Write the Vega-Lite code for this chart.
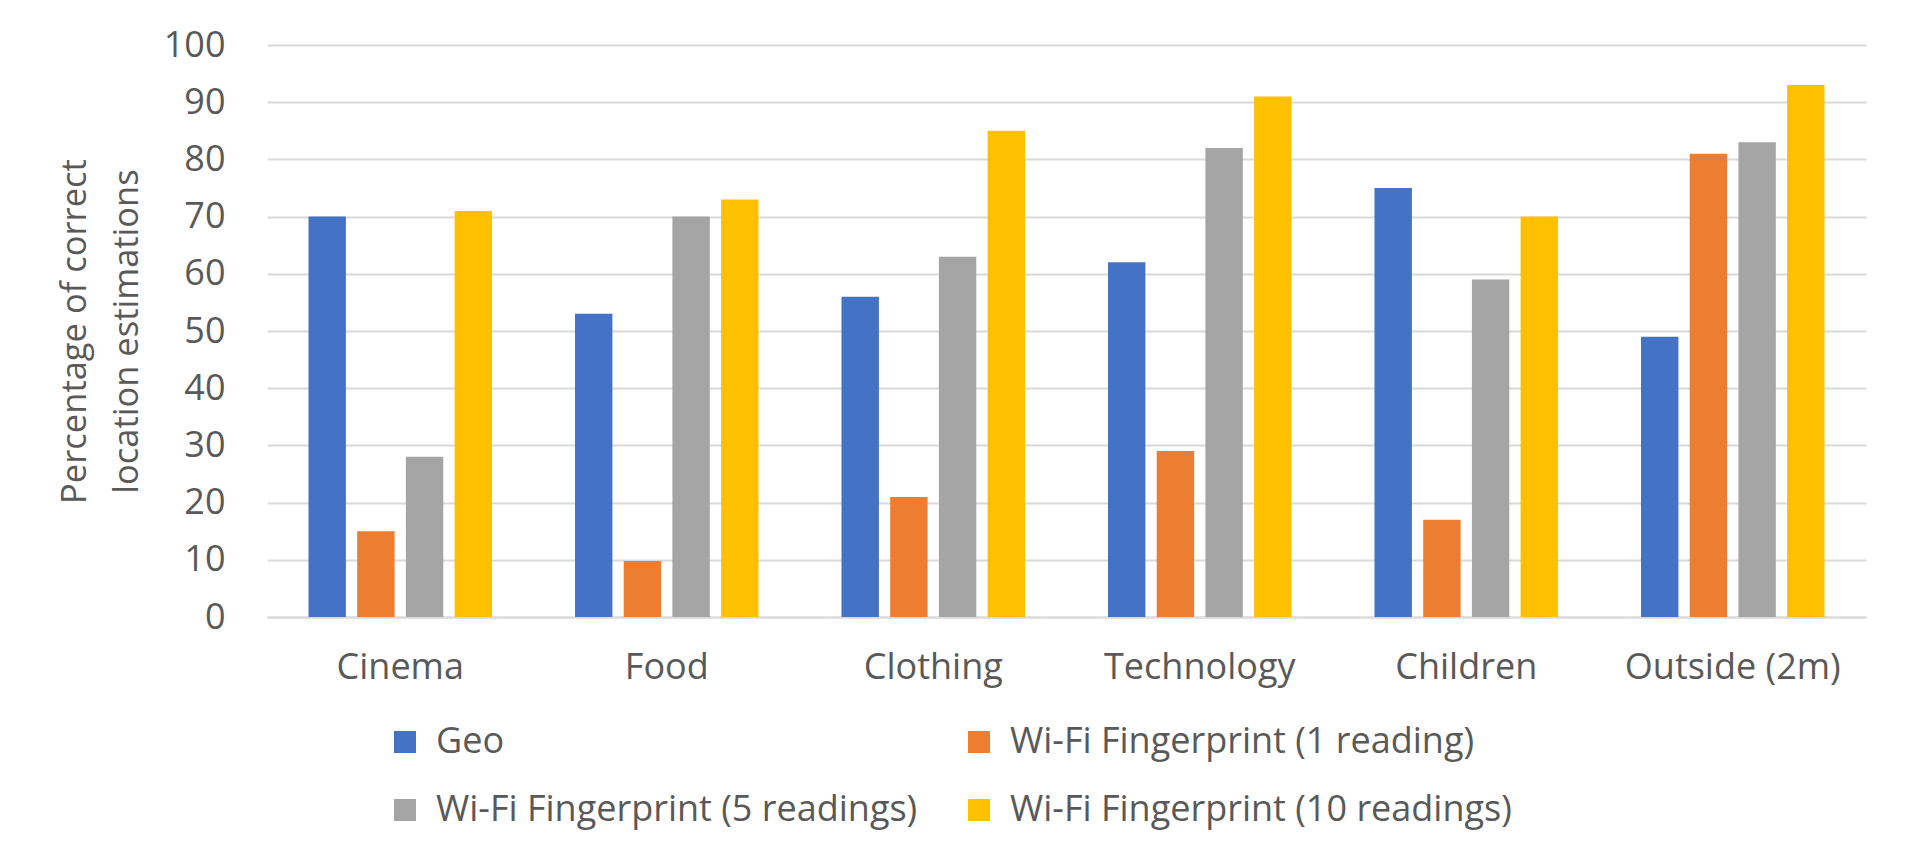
{
  "$schema": "https://vega.github.io/schema/vega-lite/v6.json",
  "width": 1599,
  "height": 572,
  "autosize": {"type": "none"},
  "padding": {"left": 267, "top": 45, "right": 40, "bottom": 236},
  "background": "#ffffff",
  "data": {
    "values": [
      {"area": "Cinema", "method": "Geo", "pct": 70},
      {"area": "Cinema", "method": "Wi-Fi Fingerprint (1 reading)", "pct": 15},
      {"area": "Cinema", "method": "Wi-Fi Fingerprint (5 readings)", "pct": 28},
      {"area": "Cinema", "method": "Wi-Fi Fingerprint (10 readings)", "pct": 71},
      {"area": "Food", "method": "Geo", "pct": 53},
      {"area": "Food", "method": "Wi-Fi Fingerprint (1 reading)", "pct": 9.8},
      {"area": "Food", "method": "Wi-Fi Fingerprint (5 readings)", "pct": 70},
      {"area": "Food", "method": "Wi-Fi Fingerprint (10 readings)", "pct": 73},
      {"area": "Clothing", "method": "Geo", "pct": 56},
      {"area": "Clothing", "method": "Wi-Fi Fingerprint (1 reading)", "pct": 21},
      {"area": "Clothing", "method": "Wi-Fi Fingerprint (5 readings)", "pct": 63},
      {"area": "Clothing", "method": "Wi-Fi Fingerprint (10 readings)", "pct": 85},
      {"area": "Technology", "method": "Geo", "pct": 62},
      {"area": "Technology", "method": "Wi-Fi Fingerprint (1 reading)", "pct": 29},
      {"area": "Technology", "method": "Wi-Fi Fingerprint (5 readings)", "pct": 82},
      {"area": "Technology", "method": "Wi-Fi Fingerprint (10 readings)", "pct": 91},
      {"area": "Children", "method": "Geo", "pct": 75},
      {"area": "Children", "method": "Wi-Fi Fingerprint (1 reading)", "pct": 17},
      {"area": "Children", "method": "Wi-Fi Fingerprint (5 readings)", "pct": 59},
      {"area": "Children", "method": "Wi-Fi Fingerprint (10 readings)", "pct": 70},
      {"area": "Outside (2m)", "method": "Geo", "pct": 49},
      {"area": "Outside (2m)", "method": "Wi-Fi Fingerprint (1 reading)", "pct": 81},
      {"area": "Outside (2m)", "method": "Wi-Fi Fingerprint (5 readings)", "pct": 83},
      {"area": "Outside (2m)", "method": "Wi-Fi Fingerprint (10 readings)", "pct": 93}
    ]
  },
  "mark": {"type": "bar"},
  "encoding": {
    "x": {
      "field": "area",
      "type": "nominal",
      "sort": ["Cinema", "Food", "Clothing", "Technology", "Children", "Outside (2m)"],
      "scale": {"paddingInner": 0, "paddingOuter": 0},
      "title": null,
      "axis": {
        "labelAngle": 0,
        "labelPadding": 33,
        "labelLimit": 0,
        "ticks": false,
        "tickSize": 0,
        "domainColor": "#d9d9d9",
        "domainWidth": 2,
        "grid": false
      }
    },
    "xOffset": {
      "field": "method",
      "type": "nominal",
      "sort": ["Geo", "Wi-Fi Fingerprint (1 reading)", "Wi-Fi Fingerprint (5 readings)", "Wi-Fi Fingerprint (10 readings)"],
      "scale": {"paddingInner": 0.232, "paddingOuter": 0.852}
    },
    "y": {
      "field": "pct",
      "type": "quantitative",
      "scale": {"domain": [0, 100], "nice": false},
      "title": ["Percentage of correct", "location estimations"],
      "axis": {
        "values": [0, 10, 20, 30, 40, 50, 60, 70, 80, 90, 100],
        "domain": false,
        "ticks": false,
        "tickSize": 0,
        "labelPadding": 42,
        "grid": true,
        "gridColor": "#d9d9d9",
        "gridWidth": 2,
        "titleAngle": -90,
        "titleAlign": "center",
        "titleBaseline": "middle",
        "titleX": -192,
        "titleY": 286,
        "titleFontSize": 34.5,
        "titleLineHeight": 52
      }
    },
    "color": {
      "field": "method",
      "type": "nominal",
      "sort": ["Geo", "Wi-Fi Fingerprint (1 reading)", "Wi-Fi Fingerprint (5 readings)", "Wi-Fi Fingerprint (10 readings)"],
      "scale": {
        "domain": ["Geo", "Wi-Fi Fingerprint (1 reading)", "Wi-Fi Fingerprint (5 readings)", "Wi-Fi Fingerprint (10 readings)"],
        "range": ["#4472c4", "#ed7d31", "#a5a5a5", "#ffc000"]
      },
      "legend": {
        "orient": "none",
        "direction": "horizontal",
        "legendX": 120,
        "legendY": 679,
        "columns": 2,
        "columnPadding": 43,
        "rowPadding": 32,
        "padding": 0,
        "title": null,
        "symbolType": "square",
        "symbolSize": 484,
        "symbolStrokeWidth": 0,
        "labelOffset": 13,
        "labelLimit": 0
      }
    }
  },
  "config": {
    "font": "Open Sans",
    "view": {"stroke": null},
    "axis": {
      "labelFont": "Open Sans",
      "labelFontSize": 36,
      "labelColor": "#595959",
      "titleFont": "Open Sans",
      "titleFontWeight": "normal",
      "titleColor": "#595959"
    },
    "legend": {
      "labelFont": "Open Sans",
      "labelFontSize": 36,
      "labelColor": "#595959"
    }
  }
}
